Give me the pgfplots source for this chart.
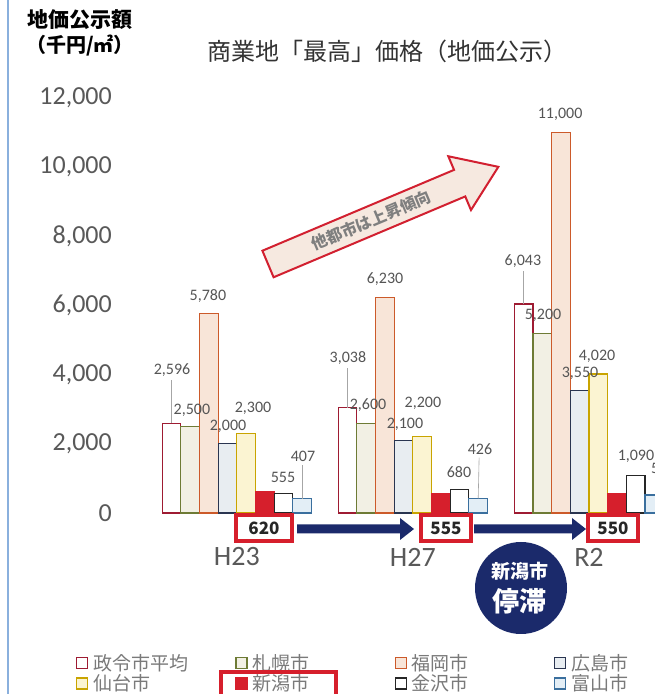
\documentclass[border=0pt]{standalone}
\usepackage{fontspec}
\setmainfont{Carlito}
\newfontfamily\jp{Noto Sans CJK JP}
\usepackage{pgfplots}
\usepackage{pgfplotstable}
\pgfplotsset{compat=1.18}

\definecolor{cAdraw}{HTML}{9E1B32}
\definecolor{cBdraw}{HTML}{6E7B35}\definecolor{cBfill}{HTML}{F2F0E4}
\definecolor{cCdraw}{HTML}{CC5A2A}\definecolor{cCfill}{HTML}{F8E5D8}
\definecolor{cDdraw}{HTML}{2A3550}\definecolor{cDfill}{HTML}{E8EDF1}
\definecolor{cEdraw}{HTML}{C9A400}\definecolor{cEfill}{HTML}{FBF4D2}
\definecolor{cF}{HTML}{D61F2C}
\definecolor{cGdraw}{HTML}{262626}
\definecolor{cHdraw}{HTML}{3A6F9E}\definecolor{cHfill}{HTML}{E3EEF6}
\definecolor{tickgray}{HTML}{595959}
\definecolor{valgray}{HTML}{555555}
\definecolor{leggray}{HTML}{7A7A7A}
\definecolor{navy}{HTML}{1B2A6B}
\definecolor{arrfill}{HTML}{F6E9E0}
\definecolor{arrred}{HTML}{D22030}
\definecolor{arrtext}{HTML}{7F7F7F}
\definecolor{leftblue}{HTML}{8AB0DD}
\definecolor{titlegray}{HTML}{333333}

\tikzset{
  vlab/.style={font=\fontsize{16bp}{18bp}\selectfont, text=valgray, inner sep=0pt},
  lead/.style={draw=gray!70, line width=0.6bp},
  nbox/.style={draw=cF, line width=3.5bp, fill=white, minimum height=26bp, inner sep=0pt, font=\jp\bfseries\fontsize{17bp}{19bp}\selectfont, text=black!85},
}

\pgfplotstableread{
x seirei sapporo fukuoka hiroshima sendai niigata kanazawa toyama
0 2596 2500 5780 2000 2300 620 555 407
1 3038 2600 6230 2100 2200 555 680 426
2 6043 5200 11000 3550 4020 550 1090 520
}\datatable

\begin{document}
\begin{tikzpicture}
\useasboundingbox (0,0) rectangle (655bp,694bp);
\fill[white] (0,0) rectangle (655bp,694bp);
\draw[color=leftblue, line width=1.2bp] (8bp,0) -- (8bp,694bp);

\begin{axis}[
  at={(140bp,181bp)}, anchor=south west,
  scale only axis, width=515bp, height=415bp,
  xmin=-0.55, xmax=2.375, ymin=0, ymax=12000,
  ybar=0pt, bar width=0.106,
  clip=false,
  axis line style={draw=none},
  major tick length=0pt,
  xtick={0,1,2}, xticklabels={H23,H27,R2},
  ytick={0,2000,4000,6000,8000,10000,12000},
  scaled y ticks=false,
  yticklabel={\pgfmathprintnumber[assume math mode=true,1000 sep={,}]{\tick}},
  yticklabel style={font=\fontsize{26bp}{30bp}\selectfont, text=tickgray, anchor=east, inner sep=0pt, xshift=-28bp},
  xticklabel style={font=\fontsize{28bp}{32bp}\selectfont, text=tickgray, anchor=center, inner sep=0pt, yshift=-44bp},
  legend columns=4,
  legend style={at={(-0.130,-0.335)}, anchor=north west, draw=none, fill=none,
    font=\jp\fontsize{19bp}{21bp}\selectfont, text=leggray, row sep=3bp,
    nodes={inner sep=0pt},
    /tikz/every odd column/.style={column sep=5bp}},
  legend image code/.code={\draw[#1, line width=1.2bp] (0bp,-5.5bp) rectangle (11bp,5.5bp);},
]
\addplot[draw=cAdraw, fill=white, line width=1.1bp, bar shift=-0.371] table[x=x,y=seirei]{\datatable};
\addlegendentry{\makebox[142bp][l]{政令市平均}}
\addplot[draw=cBdraw, fill=cBfill, line width=1.1bp, bar shift=-0.265] table[x=x,y=sapporo]{\datatable};
\addlegendentry{\makebox[142bp][l]{札幌市}}
\addplot[draw=cCdraw, fill=cCfill, line width=1.1bp, bar shift=-0.159] table[x=x,y=fukuoka]{\datatable};
\addlegendentry{\makebox[142bp][l]{福岡市}}
\addplot[draw=cDdraw, fill=cDfill, line width=1.1bp, bar shift=-0.053] table[x=x,y=hiroshima]{\datatable};
\addlegendentry{\makebox[142bp][l]{広島市}}
\addplot[draw=cEdraw, fill=cEfill, line width=1.1bp, bar shift=0.053] table[x=x,y=sendai]{\datatable};
\addlegendentry{\makebox[142bp][l]{仙台市}}
\addplot[draw=cF, fill=cF, line width=1.1bp, bar shift=0.159] table[x=x,y=niigata]{\datatable};
\addlegendentry{\makebox[142bp][l]{新潟市}}
\addplot[draw=cGdraw, fill=white, line width=1.1bp, bar shift=0.265] table[x=x,y=kanazawa]{\datatable};
\addlegendentry{\makebox[142bp][l]{金沢市}}
\addplot[draw=cHdraw, fill=cHfill, line width=1.1bp, bar shift=0.371] table[x=x,y=toyama]{\datatable};
\addlegendentry{\makebox[142bp][l]{富山市}}

% leader lines
\draw[lead] (axis cs:-0.371,2596) -- (axis cs:-0.371,3850);
\draw[lead] (axis cs:0.371,407) -- (axis cs:0.371,1400);
\draw[lead] (axis cs:0.629,3038) -- (axis cs:0.629,4200);
\draw[lead] (axis cs:1.371,426) -- (axis cs:1.376,1600);
\draw[lead] (axis cs:1.629,6043) -- (axis cs:1.629,7000);
% value labels
\node[vlab] at (axis cs:-0.368,4135) {2,596};
\node[vlab] at (axis cs:-0.255,2978) {2,500};
\node[vlab] at (axis cs:-0.164,6275) {5,780};
\node[vlab] at (axis cs:-0.050,2516) {2,000};
\node[vlab] at (axis cs:0.092,3036) {2,300};
\node[vlab] at (axis cs:0.262,1041) {555};
\node[vlab] at (axis cs:0.376,1648) {407};
\node[vlab] at (axis cs:0.631,4482) {3,038};
\node[vlab] at (axis cs:0.745,3123) {2,600};
\node[vlab] at (axis cs:0.842,6766) {6,230};
\node[vlab] at (axis cs:0.955,2574) {2,100};
\node[vlab] at (axis cs:1.057,3181) {2,200};
\node[vlab] at (axis cs:1.262,1186) {680};
\node[vlab] at (axis cs:1.381,1851) {426};
\node[vlab] at (axis cs:1.625,7287) {6,043};
\node[vlab] at (axis cs:1.739,5725) {5,200};
\node[vlab] at (axis cs:1.836,11537) {11,000};
\node[vlab] at (axis cs:1.949,4048) {3,550};
\node[vlab] at (axis cs:2.046,4540) {4,020};
\node[vlab] at (axis cs:2.267,1648) {1,090};
\node[vlab, anchor=west] at (axis cs:2.352,1301) {520};
\end{axis}

% titles
\node[font=\jp\bfseries\fontsize{21bp}{24bp}\selectfont, text=black] at (80bp,674bp) {地価公示額};
\node[font=\jp\bfseries\fontsize{20bp}{24bp}\selectfont, text=black] at (80bp,648bp) {（千円/㎡）};
\node[font=\jp\fontsize{24bp}{28bp}\selectfont, text=titlegray] at (387bp,643bp) {商業地「最高」価格（地価公示）};

% big arrow
\begin{scope}[shift={(268bp,430bp)}, rotate=22.87]
\filldraw[fill=arrfill, draw=arrred, line width=2bp, line join=miter]
 (0bp,-14.4bp) -- (208bp,-14.4bp) -- (208bp,-29.2bp) -- (250bp,0bp) -- (208bp,29.2bp) -- (208bp,14.4bp) -- (0bp,14.4bp) -- cycle;
\node[rotate=22.87, text=arrtext, font=\jp\bfseries\fontsize{16bp}{18bp}\selectfont] at (112bp,0bp) {他都市は上昇傾向};
\end{scope}

% navy arrows
\fill[navy] (297bp,160.5bp) -- (400bp,160.5bp) -- (400bp,154bp) -- (414bp,165bp) -- (400bp,176bp) -- (400bp,169.5bp) -- (297bp,169.5bp) -- cycle;
\fill[navy] (474bp,160.5bp) -- (572bp,160.5bp) -- (572bp,154bp) -- (586bp,165bp) -- (572bp,176bp) -- (572bp,169.5bp) -- (474bp,169.5bp) -- cycle;

% niigata value boxes
\node[nbox, minimum width=56bp] at (264bp,166bp) {620};
\node[nbox, minimum width=50bp] at (446bp,166bp) {555};
\node[nbox, minimum width=50bp] at (613bp,166bp) {550};

% circle
\fill[navy] (521bp,106bp) circle (46bp);
\node[font=\jp\bfseries\fontsize{19bp}{21bp}\selectfont, text=white] at (520bp,123bp) {新潟市};
\node[font=\jp\bfseries\fontsize{27bp}{30bp}\selectfont, text=white] at (519bp,93bp) {停滞};

% red legend box
\draw[cF, line width=3.5bp] (221bp,22bp) rectangle (336bp,-10bp);
\end{tikzpicture}
\end{document}
